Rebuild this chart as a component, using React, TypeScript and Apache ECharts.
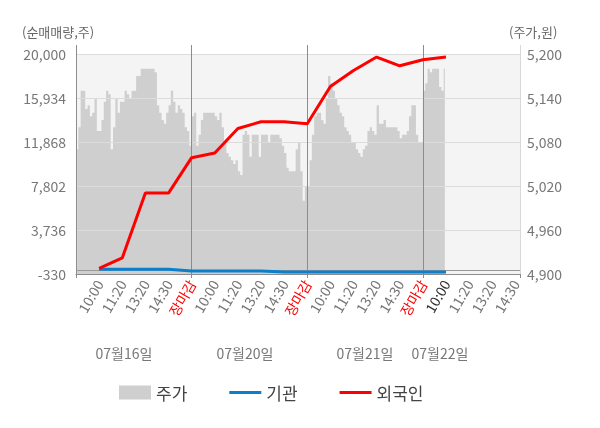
import React, { useEffect, useRef } from "react";
import * as echarts from "echarts";

// x-axis tick labels (one slot per label position)
const timeLabels = [
  "", "10:00", "11:20", "13:20", "14:30", "장마감",
  "10:00", "11:20", "13:20", "14:30", "장마감",
  "10:00", "11:20", "13:20", "14:30", "장마감",
  "10:00", "11:20", "13:20", "14:30",
];
const currentLabelIndex = 16;
const dayLabels = ["07월16일", "07월20일", "07월21일", "07월22일"];

// net buying (shares), aligned with timeLabels
const foreignNet = [null, 200, 1150, 7150, 7150, 10420, 10850, 13120, 13740, 13740, 13560, 17000, 18480, 19720, 18910, 19470, 19720];
const institutionNet = [null, 100, 100, 100, 100, -50, -50, -50, -50, -150, -150, -150, -150, -150, -150, -150, -150];

// intraday price (won)
const priceDay1 = [
  5070, 5100, 5150, 5150, 5125, 5130, 5115, 5120, 5140, 5095,
  5095, 5110, 5135, 5150, 5145, 5070, 5100, 5140, 5120, 5135,
  5135, 5150, 5145, 5140, 5150, 5150, 5170, 5170, 5180, 5180,
  5180, 5180, 5180, 5180, 5175, 5130, 5120, 5110, 5105, 5120,
  5130, 5150, 5135, 5120, 5130, 5125, 5120, 5100, 5095, 5075,
];
const priceDay2 = [
  5115, 5120, 5075, 5090, 5110, 5120, 5120, 5120, 5120, 5120,
  5115, 5110, 5120, 5100, 5080, 5065, 5060, 5055, 5050, 5055,
  5040, 5035, 5090, 5095, 5090, 5060, 5090, 5090, 5090, 5060,
  5090, 5090, 5090, 5080, 5090, 5090, 5090, 5090, 5085, 5075,
  5065, 5045, 5040, 5040, 5040, 5070, 5080, 5040, 5000, 5020,
];
const priceDay3 = [
  5020, 5055, 5090, 5115, 5120, 5120, 5110, 5105, 5140, 5170,
  5160, 5150, 5140, 5130, 5120, 5115, 5100, 5095, 5090, 5080,
  5080, 5070, 5065, 5060, 5070, 5075, 5095, 5100, 5095, 5090,
  5130, 5105, 5105, 5110, 5100, 5100, 5100, 5100, 5100, 5095,
  5085, 5090, 5090, 5095, 5115, 5130, 5130, 5090, 5080, 5080,
];
const priceDay4 = [5150, 5160, 5180, 5175, 5180, 5180, 5180, 5155, 5150, 5180];

const leftTicks = { min: -330, max: 20000, interval: 4066 };
const rightTicks = { min: 4900, max: 5200, interval: 60 };
const slotSpan = 19.2;
const barSlots = 192;

export default function App() {
  const ref = useRef<HTMLDivElement>(null);

  useEffect(() => {
    if (!ref.current) return;
    const chart = echarts.init(ref.current, undefined, { renderer: "svg" });
    const font = "'Noto Sans CJK KR', 'Noto Sans', sans-serif";
    const prices = [...priceDay1, ...priceDay2, ...priceDay3, ...priceDay4];
    const barCats = Array.from({ length: barSlots }, (_, i) => String(i));
    const toPairs = (arr: (number | null)[]) =>
      arr.map((v, i) => [i, v]).filter((p) => p[1] !== null);
    const lineIcon = "path://M0,0 L32,0 L32,3 L0,3 Z";
    const dark = "#8c8c8c";

    chart.setOption({
      animation: false,
      textStyle: { fontFamily: font },
      grid: [
        {
          left: 76,
          right: 80,
          top: 54,
          bottom: 154,
          show: true,
          backgroundColor: "#f4f4f4",
          borderWidth: 0,
        },
        {
          left: 76,
          right: 80,
          top: 45,
          bottom: 154,
          show: false,
        },
      ],
      legend: {
        left: 114,
        top: 379,
        itemWidth: 32,
        itemHeight: 14,
        itemGap: 42,
        symbolKeepAspect: true,
        textStyle: { fontSize: 17, color: "#444", fontFamily: font },
        data: [
          { name: "주가", icon: "rect" },
          { name: "기관", icon: lineIcon },
          { name: "외국인", icon: lineIcon },
        ],
      },
      xAxis: [
        {
          type: "value",
          gridIndex: 0,
          min: 0,
          max: slotSpan,
          interval: 1,
          position: "bottom",
          z: 3,
          axisLine: { show: true, onZero: false, lineStyle: { color: dark } },
          axisTick: { show: false },
          splitLine: { show: false },
          axisLabel: {
            rotate: 60,
            margin: 7,
            fontSize: 14,
            fontFamily: font,
            formatter: (v: number) =>
              Number.isInteger(v) ? timeLabels[v] ?? "" : "",
            color: (v: any) => {
              const k = Number(v);
              if (timeLabels[k] === "장마감") return "#ff0000";
              if (k === currentLabelIndex) return "#333333";
              return "#777777";
            },
          },
        },
        {
          type: "value",
          gridIndex: 1,
          min: 0,
          max: slotSpan,
          interval: 5,
          position: "bottom",
          z: 3,
          axisLine: { show: false },
          axisLabel: { show: false },
          axisTick: { show: true, length: 4, lineStyle: { color: dark } },
          splitLine: {
            show: true,
            lineStyle: { color: [dark, dark, dark, dark, "#d8d8d8"], width: 1 },
          },
        },
        {
          type: "category",
          gridIndex: 0,
          data: barCats,
          boundaryGap: true,
          show: false,
        },
      ],
      yAxis: [
        {
          type: "value",
          gridIndex: 0,
          position: "left",
          min: leftTicks.min,
          max: leftTicks.max,
          interval: leftTicks.interval,
          z: 3,
          axisLine: { show: true, lineStyle: { color: dark } },
          axisTick: { show: false },
          splitLine: { show: true, lineStyle: { color: "#dcdcdc" } },
          axisLabel: { color: "#777", fontSize: 14, margin: 10, fontFamily: font },
        },
        {
          type: "value",
          gridIndex: 0,
          position: "right",
          min: rightTicks.min,
          max: rightTicks.max,
          interval: rightTicks.interval,
          z: 3,
          axisLine: { show: false },
          axisTick: { show: false },
          splitLine: { show: false },
          axisLabel: { color: "#777", fontSize: 14, margin: 7, fontFamily: font },
        },
        {
          type: "value",
          gridIndex: 1,
          min: 0,
          max: 1,
          show: false,
        },
      ],
      series: [
        {
          name: "주가",
          type: "line",
          xAxisIndex: 2,
          yAxisIndex: 1,
          data: prices,
          step: "middle",
          showSymbol: false,
          symbol: "none",
          lineStyle: { width: 0, color: "#cfcfcf" },
          areaStyle: { color: "#cfcfcf", opacity: 1, origin: "start" },
          itemStyle: { color: "#cfcfcf" },
          z: 1,
        },
        {
          name: "기관",
          type: "line",
          xAxisIndex: 0,
          yAxisIndex: 0,
          data: toPairs(institutionNet),
          showSymbol: false,
          symbol: "none",
          lineStyle: { color: "#0c7fcc", width: 3 },
          itemStyle: { color: "#0c7fcc" },
          z: 5,
          markLine: {
            silent: true,
            symbol: ["none", "none"],
            label: { show: false },
            lineStyle: { color: "#999", type: "solid", width: 1 },
            data: [{ yAxis: 0 }],
          },
        },
        {
          name: "외국인",
          type: "line",
          xAxisIndex: 0,
          yAxisIndex: 0,
          data: toPairs(foreignNet),
          showSymbol: false,
          symbol: "none",
          lineStyle: { color: "#ff0000", width: 3 },
          itemStyle: { color: "#ff0000" },
          z: 6,
        },
      ],
      graphic: [
        { type: "text", left: 22, top: 25, style: { text: "(순매매량,주)", fontSize: 13, fill: "#666", fontFamily: font } },
        { type: "text", left: 509, top: 25, style: { text: "(주가,원)", fontSize: 13, fill: "#666", fontFamily: font } },
        ...dayLabels.map((t, i) => ({
          type: "text",
          x: [124, 245, 365, 440][i],
          y: 353,
          style: { text: t, fontSize: 14, fill: "#777", fontFamily: font, align: "center", verticalAlign: "middle" },
        })),
      ],
    });
    return () => chart.dispose();
  }, []);

  return (
    <div
      ref={ref}
      style={{ position: "fixed", left: 0, top: 0, width: 600, height: 428 }}
    />
  );
}
